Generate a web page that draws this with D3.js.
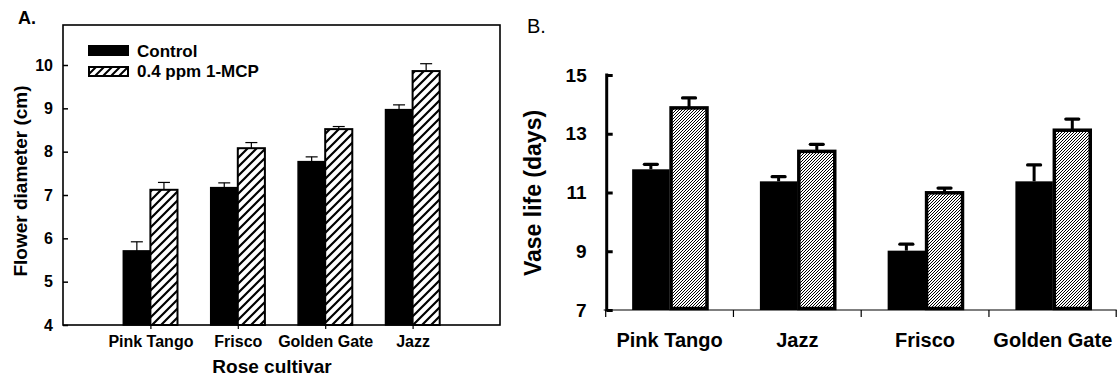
<!DOCTYPE html>
<html><head><meta charset="utf-8">
<script src="https://cdn.jsdelivr.net/npm/d3@7"></script>
<style>
html,body{margin:0;padding:0;background:#fff;}
svg{display:block;font-family:"Liberation Sans",Arial,sans-serif;}
svg text{font-family:"Liberation Sans",Arial,sans-serif;}
</style></head>
<body><svg id="chart" width="1117" height="381"></svg>
<script>
// Panel A data
const catsA = ["Pink Tango", "Frisco", "Golden Gate", "Jazz"];
const controlA = [5.71, 7.17, 7.77, 8.97];
const controlErrA = [0.21, 0.11, 0.11, 0.11];
const mcpA = [7.12, 8.08, 8.52, 9.86];
const mcpErrA = [0.17, 0.13, 0.06, 0.17];
const ticksA = [4, 5, 6, 7, 8, 9, 10];
const seriesNames = ["Control", "0.4 ppm 1-MCP"];

// Panel B data
const catsB = ["Pink Tango", "Jazz", "Frisco", "Golden Gate"];
const controlB = [11.79, 11.38, 9.02, 11.38];
const controlErrB = [0.17, 0.16, 0.22, 0.56];
const mcpB = [13.88, 12.4, 10.99, 13.12];
const mcpErrB = [0.34, 0.24, 0.16, 0.38];
const ticksB = [7, 9, 11, 13, 15];

const FONT = "Liberation Sans, Arial, sans-serif";
const svg = d3.select("#chart");
const defs = svg.append("defs");
// coarse hatch for panel A
const pA = defs.append("pattern").attr("id","hatchA").attr("patternUnits","userSpaceOnUse")
  .attr("width",9).attr("height",9);
pA.append("rect").attr("width",9).attr("height",9).attr("fill","#fff");
pA.append("path").attr("d","M-2,11 L11,-2 M-2,2 L2,-2 M7,11 L11,7").attr("stroke","#000").attr("stroke-width",2.2);
const pL = defs.append("pattern").attr("id","hatchL").attr("patternUnits","userSpaceOnUse")
  .attr("width",8).attr("height",8).attr("x",0).attr("y",3);
pL.append("rect").attr("width",8).attr("height",8).attr("fill","#fff");
pL.append("path").attr("d","M-2,10 L10,-2 M-2,2 L2,-2 M6,10 L10,6").attr("stroke","#000").attr("stroke-width",2);
// fine hatch for panel B (pixel diagonal)
const pB = defs.append("pattern").attr("id","hatchB").attr("patternUnits","userSpaceOnUse")
  .attr("width",3).attr("height",3);
pB.append("rect").attr("width",3).attr("height",3).attr("fill","#fff");
[[0,2],[1,1],[2,0]].forEach(([px,py])=>pB.append("rect").attr("x",px).attr("y",py).attr("width",1).attr("height",1)
  .attr("fill","#000").attr("shape-rendering","crispEdges"));

// ================= Panel A =================
const xA = d3.scaleLinear().domain([0,5]).range([63,500]);
const yA = d3.scaleLinear().domain([4,10]).range([325,65]);
const gA = svg.append("g");
const bwA = xA(1) - xA(0.69);

gA.selectAll(".cA").data(catsA).join("rect")
  .attr("x",(d,i)=>xA(i+1)-bwA).attr("y",(d,i)=>yA(controlA[i]))
  .attr("width",bwA).attr("height",(d,i)=>yA(4)-yA(controlA[i]))
  .attr("fill","#000").attr("stroke","#000").attr("stroke-width",1.5);
gA.selectAll(".mA").data(catsA).join("rect")
  .attr("x",(d,i)=>xA(i+1)).attr("y",(d,i)=>yA(mcpA[i]))
  .attr("width",bwA).attr("height",(d,i)=>yA(4)-yA(mcpA[i]))
  .attr("fill","url(#hatchA)").attr("stroke","#000").attr("stroke-width",2);
function errA(vals, errs, off){
  catsA.forEach((d,i)=>{
    const cx = xA(i+1)+off;
    gA.append("line").attr("x1",cx).attr("x2",cx).attr("y1",yA(vals[i])).attr("y2",yA(vals[i]+errs[i]))
      .attr("stroke","#000").attr("stroke-width",1.2);
    gA.append("line").attr("x1",cx-6).attr("x2",cx+6).attr("y1",yA(vals[i]+errs[i])).attr("y2",yA(vals[i]+errs[i]))
      .attr("stroke","#000").attr("stroke-width",1.2);
  });
}
errA(controlA, controlErrA, -bwA/2);
errA(mcpA, mcpErrA, bwA/2);

gA.append("rect").attr("x",xA(0)).attr("y",25).attr("width",xA(5)-xA(0)).attr("height",yA(4)-25)
  .attr("fill","none").attr("stroke","#000").attr("stroke-width",1.6);

const axLA = gA.append("g").attr("transform",`translate(${xA(0)},0)`)
  .call(d3.axisLeft(yA).tickValues(ticksA).tickFormat(d3.format("d")).tickSize(-5).tickPadding(10));
axLA.attr("font-family",FONT);
axLA.select(".domain").remove();
axLA.selectAll("line").attr("stroke-width",1.5);
axLA.selectAll("text").attr("font-size",16).attr("font-weight","bold").attr("fill","#000");

const axBA = gA.append("g").attr("transform",`translate(0,${yA(4)})`)
  .call(d3.axisBottom(xA).tickValues([1,2,3,4]).tickFormat(d=>catsA[d-1]).tickSize(4).tickPadding(7));
axBA.attr("font-family",FONT);
axBA.select(".domain").remove();
axBA.selectAll("line").attr("stroke-width",1.2);
axBA.selectAll("text").attr("font-size",16).attr("font-weight","bold").attr("fill","#000");

gA.append("text").attr("x",272).attr("y",373).attr("text-anchor","middle")
  .attr("font-size",19).attr("font-weight","bold").text("Rose cultivar");
gA.append("text").attr("transform","translate(27,181) rotate(-90)").attr("text-anchor","middle")
  .attr("font-size",19).attr("font-weight","bold").text("Flower diameter (cm)");
gA.append("text").attr("x",18).attr("y",24).attr("font-size",18).attr("font-weight","bold").text("A.");

const leg = gA.append("g");
seriesNames.forEach((n,i)=>{
  leg.append("rect").attr("x",89).attr("y",46+i*21).attr("width",39).attr("height",9)
    .attr("fill", i===0 ? "#000" : "url(#hatchL)").attr("stroke","#000").attr("stroke-width",2);
  leg.append("text").attr("x",137).attr("y",56.5+i*20.5).attr("font-size",17).attr("font-weight","bold").text(n);
});

// ================= Panel B =================
const xB = d3.scaleBand().domain(catsB).range([605.7,1116.7]).padding(0);
const yB = d3.scaleLinear().domain([7,15]).range([310,75]);
const gB = svg.append("g");
const bwB = xB.bandwidth()*0.293;
const cB = d => xB(d) + xB.bandwidth()/2;

gB.selectAll(".cB").data(catsB).join("rect")
  .attr("x",d=>cB(d)-bwB).attr("y",(d,i)=>yB(controlB[i]))
  .attr("width",bwB).attr("height",(d,i)=>yB(7)-yB(controlB[i]))
  .attr("fill","#000");
gB.selectAll(".mB").data(catsB).join("rect")
  .attr("x",d=>cB(d)+1.5).attr("y",(d,i)=>yB(mcpB[i]))
  .attr("width",bwB-1.5).attr("height",(d,i)=>yB(7)-yB(mcpB[i])-1.5)
  .attr("fill","url(#hatchB)").attr("stroke","#000").attr("stroke-width",3.5);

function errB(vals, errs, off){
  catsB.forEach((d,i)=>{
    const cx = cB(d)+off;
    gB.append("line").attr("x1",cx).attr("x2",cx).attr("y1",yB(vals[i])).attr("y2",yB(vals[i]+errs[i]))
      .attr("stroke","#000").attr("stroke-width",3);
    gB.append("line").attr("x1",cx-6.5).attr("x2",cx+6.5).attr("y1",yB(vals[i]+errs[i])).attr("y2",yB(vals[i]+errs[i]))
      .attr("stroke","#000").attr("stroke-width",3.2).attr("stroke-linecap","round");
  });
}
errB(controlB, controlErrB, -bwB/2);
errB(mcpB, mcpErrB, bwB/2+0.75);

gB.append("line").attr("x1",xB.range()[0]-2).attr("x2",xB.range()[1]).attr("y1",yB(7)).attr("y2",yB(7))
  .attr("stroke","#000").attr("stroke-width",1.2);
const bounds = catsB.map(d=>xB(d)).concat([xB.range()[1]-0.5]);
gB.selectAll(".bt").data(bounds).join("line")
  .attr("x1",d=>d).attr("x2",d=>d).attr("y1",yB(7)).attr("y2",yB(7)+7)
  .attr("stroke","#000").attr("stroke-width",1.2);
const axBB = gB.append("g").attr("transform",`translate(0,${yB(7)})`)
  .call(d3.axisBottom(xB).tickSize(0).tickPadding(23));
axBB.attr("font-family",FONT);
axBB.select(".domain").remove();
axBB.selectAll("text").attr("font-size",20).attr("font-weight","bold").attr("fill","#000");

const axLB = gB.append("g").attr("transform",`translate(${xB.range()[0]+1},0)`)
  .call(d3.axisLeft(yB).tickValues(ticksB).tickFormat(d3.format("d")).tickSize(-6).tickPadding(20));
axLB.attr("font-family",FONT);
axLB.select(".domain").attr("stroke-width",3).attr("d",`M0,${yB(15)-1.5}V${yB(7)+1.5}`);
axLB.selectAll("line").attr("stroke-width",3);
axLB.selectAll("text").attr("font-size",19).attr("font-weight","bold").attr("fill","#000");

gB.append("text").attr("transform","translate(541,193) rotate(-90)").attr("text-anchor","middle")
  .attr("font-size",23).attr("font-weight","bold").text("Vase life (days)");
gB.append("text").attr("x",527).attr("y",33).attr("font-size",20).text("B.");
</script></body></html>
